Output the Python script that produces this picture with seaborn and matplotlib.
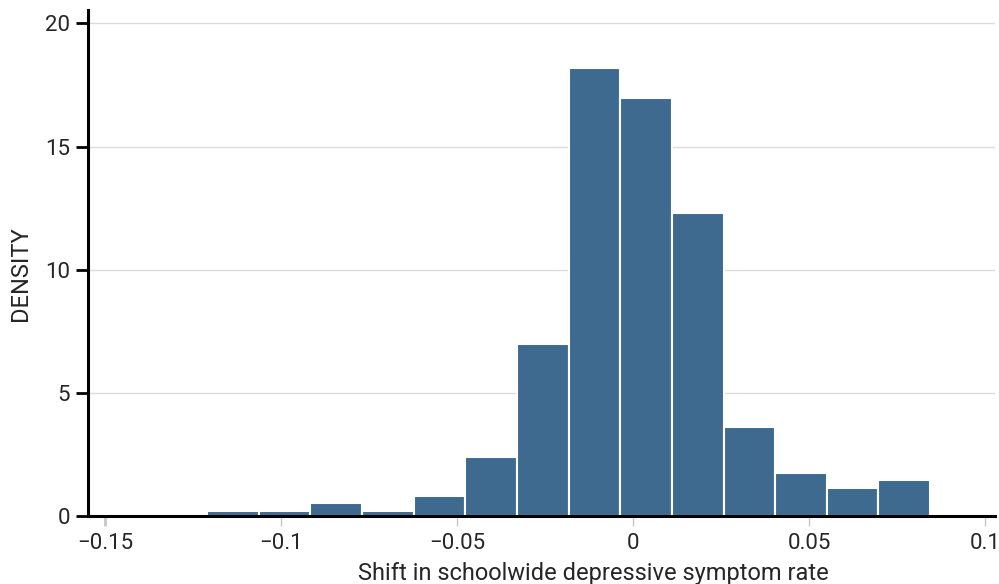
import numpy as np
import pandas as pd
import seaborn as sns
import matplotlib.pyplot as plt

# histogram bins
bin_edges = [-0.1210, -0.1063, -0.0916, -0.0770, -0.0623, -0.0476, -0.0330,
             -0.0183, -0.0036, 0.0111, 0.0257, 0.0404, 0.0551, 0.0697, 0.0844]
density = [0.22, 0.22, 0.54, 0.22, 0.83, 2.39, 7.01,
           18.18, 16.96, 12.30, 3.64, 1.77, 1.15, 1.46]
x_ticks = [-0.15, -0.1, -0.05, 0, 0.05, 0.1]
x_ticklabels = ['\u22120.15', '\u22120.1', '\u22120.05', '0', '0.05', '0.1']
y_ticks = [0, 5, 10, 15, 20]

if __name__ == '__main__':
    sns.set_theme(style="white")
    plt.rcParams['font.family'] = ['Roboto', 'DejaVu Sans']

    edges = np.array(bin_edges)
    df = pd.DataFrame({'shift': (edges[:-1] + edges[1:]) / 2, 'density': density})

    fig = plt.figure(figsize=(9.99, 5.84), dpi=100)
    ax = fig.add_axes([0.088, 0.116, 0.908, 0.867])
    sns.histplot(data=df, x='shift', weights='density', bins=bin_edges,
                 stat='count', color='#3e6a8f', alpha=1, edgecolor='white',
                 linewidth=1.5, ax=ax, zorder=2)

    ax.set_xlim(-0.1548, 0.1028)
    ax.set_ylim(0, 20.55)
    ax.set_xticks(x_ticks)
    ax.set_xticklabels(x_ticklabels)
    ax.set_yticks(y_ticks)
    ax.yaxis.grid(True, color='#dcdcdc', linewidth=1)
    ax.set_axisbelow(True)

    for side in ['top', 'right']:
        ax.spines[side].set_visible(False)
    for side in ['left', 'bottom']:
        ax.spines[side].set_color('black')
        ax.spines[side].set_linewidth(2.2)

    ax.tick_params(axis='y', direction='out', length=9, width=2, color='black',
                   labelsize=16, pad=4, left=True)
    ax.tick_params(axis='x', direction='out', length=7, width=1, color='#c8c8c8',
                   labelsize=16, pad=5, bottom=True)
    first = ax.xaxis.get_major_ticks()[0]
    first.tick1line.set_color('black')
    first.tick1line.set_markeredgewidth(2)

    ax.set_xlabel('Shift in schoolwide depressive symptom rate', fontsize=17, labelpad=6)
    ax.set_ylabel('DENSITY', fontsize=17, labelpad=9)
    ax.xaxis.label.set_x(0.557)
    ax.yaxis.label.set_y(0.48)

    plt.savefig('out.png', dpi=100)
